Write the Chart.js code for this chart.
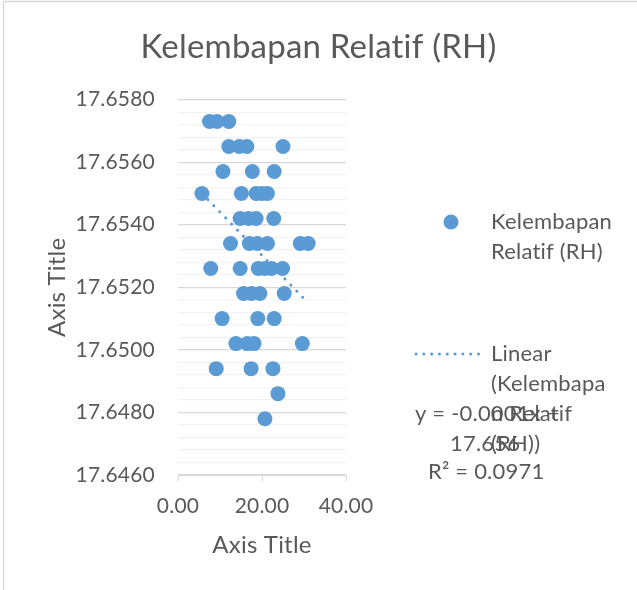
<!DOCTYPE html>
<html>
<head>
<meta charset="utf-8">
<script src="https://cdn.jsdelivr.net/npm/chart.js@4.4.1/dist/chart.umd.min.js"></script>
<style>
  body { margin: 0; background: #fff; }
  canvas { display: block; }
</style>
</head>
<body>
<canvas id="chart-rh" width="637" height="590"></canvas>
<script>
// data (x = temperature-ish, y = RH)
const rh_x = [
  7.5, 9.3, 12.1,
  12.1, 14.6, 16.4, 25.0,
  10.7, 17.7, 22.9,
  5.7, 15.1, 18.6, 20.0, 21.3,
  14.8, 16.8, 18.6, 22.8,
  12.5, 17.0, 18.9, 21.3, 29.1, 31.0,
  7.8, 14.8, 19.1, 20.7, 22.3, 24.9,
  15.6, 17.5, 19.5, 25.3,
  10.5, 19.0, 22.9,
  13.8, 16.5, 18.1, 29.6,
  9.1, 17.4, 22.6,
  23.8,
  20.7
];
const rh_y = [
  17.6573, 17.6573, 17.6573,
  17.6565, 17.6565, 17.6565, 17.6565,
  17.6557, 17.6557, 17.6557,
  17.6550, 17.6550, 17.6550, 17.6550, 17.6550,
  17.6542, 17.6542, 17.6542, 17.6542,
  17.6534, 17.6534, 17.6534, 17.6534, 17.6534, 17.6534,
  17.6526, 17.6526, 17.6526, 17.6526, 17.6526, 17.6526,
  17.6518, 17.6518, 17.6518, 17.6518,
  17.6510, 17.6510, 17.6510,
  17.6502, 17.6502, 17.6502, 17.6502,
  17.6494, 17.6494, 17.6494,
  17.6486,
  17.6478
];

// linear trendline ends, as drawn in the picture
const trend_x = [5.7, 31.0];
const trend_y = [17.6550, 17.6515];

const y_major_ticks = [17.6460, 17.6480, 17.6500, 17.6520, 17.6540, 17.6560, 17.6580];
const y_minor_per_major = 5;
const x_ticks = [0, 20, 40];

const title_text = 'Kelembapan Relatif (RH)';
const series_label = ['Kelembapan', 'Relatif (RH)'];
const trend_label = ['Linear', '(Kelembapa', 'n Relatif', '(RH))'];
const equation_lines = ['y = -0.0001x +', '17.656', 'R\u00B2 = 0.0971'];

const blue = '#5B9BD5';
const text_grey = '#595959';

Chart.defaults.font.family = 'Lato';
Chart.defaults.color = text_grey;

// legend, trendline label and chart outline, laid out like the Excel chart
const excelLegend = {
  id: 'excelLegend',
  beforeDraw(chart) {
    const c = chart.ctx;
    // a little letter spacing keeps Lato from joining "ti" into a ligature
    c.letterSpacing = '0.2px';
    c.save();
    c.strokeStyle = '#D9D9D9';
    c.lineWidth = 1.5;
    c.beginPath();
    c.moveTo(3.5, 590);
    c.lineTo(3.5, 1.5);
    c.lineTo(637, 1.5);
    c.stroke();
    c.restore();
  },
  afterDraw(chart) {
    const c = chart.ctx;
    c.save();
    c.font = '22px Lato';
    c.fillStyle = text_grey;
    c.textBaseline = 'middle';
    c.textAlign = 'left';

    // series marker
    c.fillStyle = blue;
    c.beginPath();
    c.arc(451, 222, 7.5, 0, Math.PI * 2);
    c.fill();
    c.fillStyle = text_grey;
    series_label.forEach((t, i) => c.fillText(t, 491, 222 + i * 30));

    // trendline sample
    c.strokeStyle = blue;
    c.lineWidth = 3;
    c.lineCap = 'round';
    c.setLineDash([0.01, 7.8]);
    c.beginPath();
    c.moveTo(416, 354);
    c.lineTo(486, 354);
    c.stroke();
    c.setLineDash([]);
    trend_label.forEach((t, i) => c.fillText(t, 491, 354 + i * 30));

    // equation label (overlaps the legend text, as in the original)
    c.fillText(equation_lines[0], 415, 414);
    c.fillText(equation_lines[1], 450, 444);
    c.fillText(equation_lines[2], 428, 472);
    c.restore();
  }
};

const ctx = document.getElementById('chart-rh');
const chart = new Chart(ctx, {
  type: 'scatter',
  plugins: [excelLegend],
  data: {
    datasets: [
      {
        type: 'line',
        label: 'Linear (Kelembapan Relatif (RH))',
        data: trend_x.map((x, i) => ({ x: x, y: trend_y[i] })),
        borderColor: blue,
        borderWidth: 3,
        borderDash: [0.01, 8.5],
        borderCapStyle: 'round',
        pointRadius: 0,
        fill: false,
      },
      {
        label: 'Kelembapan Relatif (RH)',
        data: rh_x.map((x, i) => ({ x: x, y: rh_y[i] })),
        backgroundColor: blue,
        borderColor: blue,
        borderWidth: 0,
        pointRadius: 7.5,
        pointHoverRadius: 7.5,
      }
    ]
  },
  options: {
    responsive: false,
    animation: false,
    layout: {
      padding: 0
    },
    scales: {
      x: {
        type: 'linear',
        min: x_ticks[0],
        max: x_ticks[x_ticks.length - 1],
        afterBuildTicks: (scale) => {
          scale.ticks = x_ticks.map(v => ({ value: v }));
        },
        afterFit: (scale) => { scale.height = 115; },
        ticks: {
          padding: 13,
          font: { size: 21 },
          callback: (v) => Number(v).toFixed(2),
        },
        grid: {
          drawOnChartArea: false,
          drawTicks: true,
          tickLength: 6,
          color: '#D9D9D9',
        },
        border: { display: true, color: '#D9D9D9' },
        title: {
          display: true,
          text: 'Axis Title',
          font: { size: 24 },
          padding: { top: 0, bottom: 30 },
        }
      },
      y: {
        type: 'linear',
        min: y_major_ticks[0],
        max: y_major_ticks[y_major_ticks.length - 1],
        afterBuildTicks: (scale) => {
          const ticks = [];
          for (let i = 0; i < y_major_ticks.length - 1; i++) {
            const step = (y_major_ticks[i + 1] - y_major_ticks[i]) / y_minor_per_major;
            for (let k = 0; k < y_minor_per_major; k++) {
              ticks.push({ value: y_major_ticks[i] + k * step });
            }
          }
          ticks.push({ value: y_major_ticks[y_major_ticks.length - 1] });
          scale.ticks = ticks;
        },
        afterFit: (scale) => { scale.width = 178; },
        ticks: {
          padding: 23,
          autoSkip: false,
          font: { size: 21 },
          callback: (v, i) => (i % y_minor_per_major === 0 ? Number(v).toFixed(4) : ''),
        },
        grid: {
          drawTicks: false,
          lineWidth: 1.2,
          color: (c) => (c.index % y_minor_per_major === 0 ? '#D9D9D9' : '#F2F2F2'),
        },
        border: { display: false },
        title: {
          display: true,
          text: 'Axis Title',
          font: { size: 24 },
          padding: { top: 43, bottom: 0 },
        }
      },
      // empty axis that keeps the legend column free on the right
      legendSpace: {
        axis: 'y',
        position: 'right',
        display: true,
        afterFit: (scale) => { scale.width = 291; },
        ticks: { display: false },
        grid: { display: false },
        border: { display: false },
      }
    },
    plugins: {
      legend: { display: false },
      tooltip: { enabled: false },
      title: {
        display: true,
        text: title_text,
        color: text_grey,
        font: { size: 33, weight: 'normal' },
        padding: { top: 28, bottom: 32 },
      }
    }
  }
});
</script>
</body>
</html>
